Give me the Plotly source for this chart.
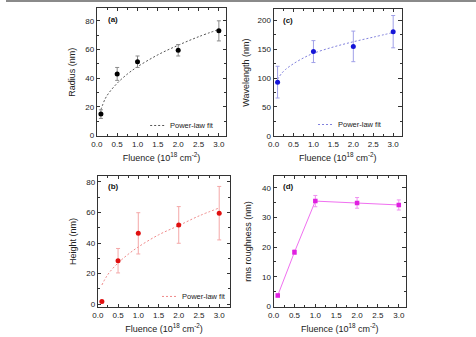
import plotly.graph_objects as go

# ---------------- data ----------------
fluence_a = [0.1, 0.5, 1.0, 2.0, 3.0]
radius = [15, 43, 51.5, 59.5, 73]
radius_err = [3, 4.5, 4, 4, 7]
fit_x_a = [0.1, 0.2, 0.3, 0.5, 0.75, 1.0, 1.5, 2.0, 2.5, 3.0]
fit_radius = [18, 25.4, 29.9, 36.5, 42.9, 48, 56.3, 63, 68.9, 74]

fluence_c = [0.1, 1.0, 2.0, 3.0]
wavelength = [93, 146, 155, 180.5]
wavelength_err = [27.5, 19, 26.5, 28]
fit_x_c = [0.1, 0.2, 0.3, 0.5, 0.75, 1.0, 1.5, 2.0, 2.5, 3.0]
fit_wavelength = [98, 108, 115, 125, 135, 143, 154, 163, 171, 179]

fluence_b = [0.1, 0.5, 1.0, 2.0, 3.0]
height = [1.8, 28.5, 46.4, 51.9, 59.6]
height_err = [0.8, 8, 13.5, 12, 17.5]
fit_x_b = [0.1, 0.2, 0.3, 0.5, 0.75, 1.0, 1.5, 2.0, 2.5, 3.0]
fit_height = [12.6, 17.5, 21.3, 27, 32.7, 37.5, 45.4, 51.5, 57.8, 63]

fluence_d = [0.1, 0.5, 1.0, 2.0, 3.0]
roughness = [3.7, 18.3, 35.5, 34.9, 34.2]
roughness_err = [0.5, 0.8, 1.9, 1.8, 1.7]

FONT = "Liberation Sans, Arial, sans-serif"
W, H = 476, 337

fig = go.Figure()

def add_panel(n, x, y, err, color, ecolor, symbol, size, fitx=None, fity=None, fitcolor=None, linecolor=None):
    xa = "x" if n == 1 else f"x{n}"
    ya = "y" if n == 1 else f"y{n}"
    if fitx is not None:
        fig.add_trace(go.Scatter(x=fitx, y=fity, mode="lines", xaxis=xa, yaxis=ya,
                                 line=dict(color=fitcolor, width=1, dash="2px,2px", shape="spline"),
                                 showlegend=False, hoverinfo="skip"))
    fig.add_trace(go.Scatter(x=x, y=y, xaxis=xa, yaxis=ya,
                             mode="lines+markers" if linecolor else "markers",
                             line=dict(color=linecolor or color, width=1),
                             marker=dict(color=color, size=size, symbol=symbol),
                             error_y=dict(type="data", array=err, color=ecolor, thickness=1, width=2),
                             showlegend=False))

add_panel(1, fluence_a, radius, radius_err, "#000000", "#8a8a8a", "circle", 5,
          fit_x_a, fit_radius, "#555555")
add_panel(2, fluence_c, wavelength, wavelength_err, "#1515d8", "#a0a0e8", "circle", 5,
          fit_x_c, fit_wavelength, "#8080dd")
add_panel(3, fluence_b, height, height_err, "#e01010", "#f4a8a8", "circle", 5,
          fit_x_b, fit_height, "#f08a8a")
add_panel(4, fluence_d, roughness, roughness_err, "#e020e0", "#f090f0", "square", 4.5,
          linecolor="#f070f0")

def px_x(v):
    return v / W

def px_y(v):
    return 1 - v / H

tickfont = dict(family=FONT, size=8, color="#222")
titlefont = dict(family=FONT, size=9, color="#222")

def xaxis(dom, rng, anchor):
    return dict(domain=[px_x(dom[0]), px_x(dom[1])], range=rng, anchor=anchor,
                showline=True, linecolor="#333", linewidth=1, mirror="ticks",
                ticks="inside", ticklen=3.5, tickcolor="#333", tickwidth=1,
                tickvals=[0, 0.5, 1.0, 1.5, 2.0, 2.5, 3.0],
                ticktext=["0.0", "0.5", "1.0", "1.5", "2.0", "2.5", "3.0"],
                minor=dict(ticks="inside", ticklen=2, dtick=0.25, tick0=0, tickcolor="#333"),
                showgrid=False, zeroline=False, tickfont=tickfont,
                title=dict(text="Fluence (10<sup>18</sup> cm<sup>-2</sup>)", font=titlefont, standoff=6))

def yaxis(dom, rng, anchor, dtick, minor, title, standoff):
    return dict(domain=[px_y(dom[1]), px_y(dom[0])], range=rng, anchor=anchor,
                showline=True, linecolor="#333", linewidth=1, mirror="ticks",
                ticks="inside", ticklen=3.5, tickcolor="#333", tickwidth=1,
                dtick=dtick, tick0=0,
                minor=dict(ticks="inside", ticklen=2, dtick=minor, tick0=0, tickcolor="#333"),
                showgrid=False, zeroline=False, tickfont=tickfont,
                title=dict(text=title, font=titlefont, standoff=standoff))

fig.update_layout(
    width=W, height=H, margin=dict(l=0, r=0, t=0, b=0),
    paper_bgcolor="white", plot_bgcolor="white",
    font=dict(family=FONT),
    xaxis=xaxis((92, 223), [0, 3.18], "y"),
    yaxis=yaxis((8, 138), [-0.5, 89], "x", 20, 10, "Radius (nm)", 8),
    xaxis2=xaxis((271, 401), [0, 3.22], "y2"),
    yaxis2=yaxis((9, 138), [-1, 220], "x2", 50, 25, "Wavelength (nm)", 6),
    xaxis3=xaxis((93, 227), [0, 3.27], "y3"),
    yaxis3=yaxis((178, 311), [-2, 84], "x3", 20, 10, "Height (nm)", 8),
    xaxis4=xaxis((271, 405), [0, 3.17], "y4"),
    yaxis4=yaxis((178, 311), [-0.3, 44], "x4", 10, 5, "rms roughness (nm)", 8),
)

# panel labels
labels = [("(a)", 101, 20), ("(c)", 279, 21), ("(b)", 101, 189), ("(d)", 279, 189)]
for t, x, y in labels:
    fig.add_annotation(text=f"<b>{t}</b>", x=px_x(x), y=px_y(y), xref="paper", yref="paper",
                       xanchor="left", yanchor="middle", showarrow=False,
                       font=dict(family=FONT, size=8, color="#111"))

# legends "Power-law fit"
legends = [(146, 161, 127, "#555555"), (316, 331, 126, "#8080dd"), (158, 173, 300, "#f08a8a")]
for x0, x1, y, c in legends:
    fig.add_shape(type="line", xref="paper", yref="paper", x0=px_x(x0), x1=px_x(x1),
                  y0=px_y(y), y1=px_y(y), line=dict(color=c, width=1, dash="2px,2px"))
    fig.add_annotation(text="Power-law fit", x=px_x(x1 + 3), y=px_y(y), xref="paper", yref="paper",
                       xanchor="left", yanchor="middle", showarrow=False,
                       font=dict(family=FONT, size=7.5, color="#222"))

# thin gray border line at top of image
fig.add_shape(type="line", xref="paper", yref="paper", x0=0, x1=1, y0=px_y(1), y1=px_y(1),
              line=dict(color="#8a8a8a", width=2))

fig.write_html("out.html")
